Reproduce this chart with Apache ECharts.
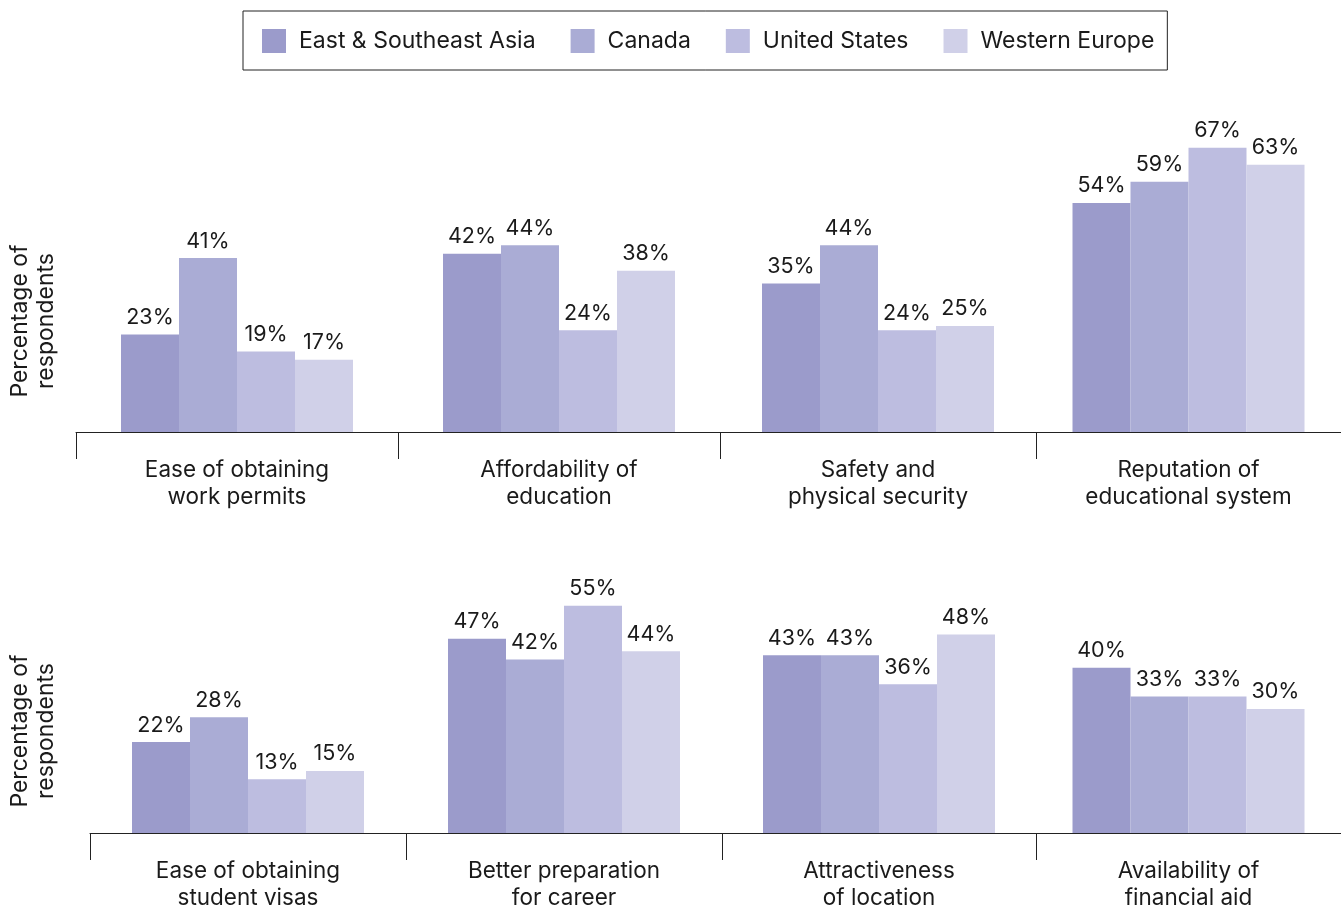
<!DOCTYPE html>
<html>
<head>
<meta charset="utf-8">
<script src="https://cdn.jsdelivr.net/npm/echarts@6/dist/echarts.min.js"></script>
<style>
html,body{margin:0;padding:0;background:#fff;}
#chart{width:1341px;height:912px;}
</style>
</head>
<body>
<div id="chart"></div>
<script>
const categories = [
  "Ease of obtaining\nwork permits",
  "Affordability of\neducation",
  "Safety and\nphysical security",
  "Reputation of\neducational system",
  "Ease of obtaining\nstudent visas",
  "Better preparation\nfor career",
  "Attractiveness\nof location",
  "Availability of\nfinancial aid"
];
const seriesNames = ["East & Southeast Asia", "Canada", "United States", "Western Europe"];
const eastAsia   = [23, 42, 35, 54, 22, 47, 43, 40];
const canada     = [41, 44, 44, 59, 28, 42, 43, 33];
const unitedStates = [19, 24, 24, 67, 13, 55, 36, 33];
const westernEurope = [17, 38, 25, 63, 15, 44, 48, 30];
const yTitle = "Percentage of\nrespondents";

const seriesData = [eastAsia, canada, unitedStates, westernEurope];
const colors = ["#9b9bcb", "#aaacd5", "#bdbde0", "#d0d0e8"];
const FONT = "Inter";
const TXT = "#1a1a1a";

// panel layout [left, right] per panel; rows: top (0-3), bottom (4-7)
const panelX = [[76,398],[398,720],[720,1036],[1036,1348],[90,406],[406,722],[722,1036],[1036,1348]];
const rowTop = [135, 585];
const rowBase = [432, 838];
const rowMax = [70, 60];

const grids = [], xAxes = [], yAxes = [], series = [];
for (let i = 0; i < 8; i++) {
  const r = i < 4 ? 0 : 1;
  const [l, rr] = panelX[i];
  grids.push({left: l, width: rr - l, top: rowTop[r], height: rowBase[r] - rowTop[r], containLabel: false});
  xAxes.push({
    type: 'category', gridIndex: i, data: [categories[i]],
    axisLine: {show: true, lineStyle: {color: '#222', width: 1}},
    axisTick: {show: true, length: 27, lineStyle: {color: '#222', width: 1}},
    axisLabel: {color: TXT, fontFamily: FONT, fontSize: 22.5, lineHeight: 27, margin: 25, interval: 0}
  });
  yAxes.push({
    type: 'value', gridIndex: i, min: 0, max: rowMax[r],
    show: false, splitLine: {show: false}
  });
  for (let s = 0; s < 4; s++) {
    series.push({
      type: 'bar', name: seriesNames[s], xAxisIndex: i, yAxisIndex: i,
      data: [seriesData[s][i]], barWidth: 58, barGap: '0%',
      itemStyle: {color: colors[s]},
      label: {show: true, position: 'top', distance: 6, formatter: '{c}%', color: TXT, fontFamily: FONT, fontSize: 21.5},
      emphasis: {disabled: true}, animation: false
    });
  }
}

const chart = echarts.init(document.getElementById('chart'));
chart.setOption({
  animation: false,
  color: colors,
  legend: {
    data: seriesNames, left: 243, top: 11,
    padding: [18, 13, 17, 19], itemWidth: 24, itemHeight: 24, itemGap: 35,
    borderColor: '#222', borderWidth: 1, borderRadius: 0,
    icon: 'rect',
    textStyle: {color: TXT, fontFamily: FONT, fontSize: 23, padding: [0, 0, 0, 8]}
  },
  grid: grids, xAxis: xAxes, yAxis: yAxes, series: series,
  graphic: [
    {type: 'text', x: 33, y: 321, rotation: Math.PI / 2,
     style: {text: yTitle, fill: TXT, font: '23px ' + FONT, textAlign: 'center', textVerticalAlign: 'middle', lineHeight: 26}},
    {type: 'text', x: 33, y: 731, rotation: Math.PI / 2,
     style: {text: yTitle, fill: TXT, font: '23px ' + FONT, textAlign: 'center', textVerticalAlign: 'middle', lineHeight: 26}}
  ]
});
</script>
</body>
</html>
